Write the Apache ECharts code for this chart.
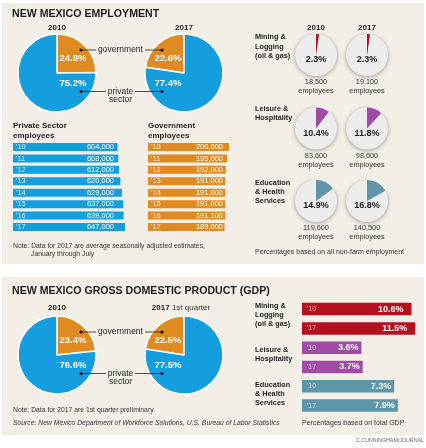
<!DOCTYPE html>
<html><head><meta charset="utf-8">
<script src="https://cdn.jsdelivr.net/npm/echarts@6/dist/echarts.min.js"></script>
<style>html,body{margin:0;padding:0;background:#fff}#c{width:426px;height:448px}</style>
</head><body><div id="c"></div>
<script>
// ---------- DATA ----------
const years = ["'10","'11","'12","'13","'14","'15","'16","'17"];
const privateEmp = [604000, 608000, 612000, 620000, 629000, 637000, 639000, 647000];
const govEmp = [200000, 195000, 192000, 191000, 191000, 191000, 191100, 189000];
const pieYears = ['2010', '2017'];
const empGovShare = [24.8, 22.6];
const empPrivShare = [75.2, 77.4];
const gdpGovShare = [23.4, 22.5];
const gdpPrivShare = [76.6, 77.5];
const sectorNames = ['Mining &\nLogging\n(oil & gas)', 'Leisure &\nHospitality', 'Education\n& Health\nServices'];
const sectorShare2010 = [2.3, 10.4, 14.9];
const sectorShare2017 = [2.3, 11.8, 16.8];
const sectorEmp2010 = [18500, 83600, 119600];
const sectorEmp2017 = [19100, 98600, 140500];
const gdpYearTags = ["'10", "'17"];
const gdpShare2010 = [10.6, 3.6, 7.3];
const gdpShare2017 = [11.5, 3.7, 7.9];

// ---------- STYLE ----------
const FONT = '"Liberation Sans", Arial, Helvetica, sans-serif';
const C = { bg:'#f3efe6', blue:'#149ede', orange:'#e08a22', ink:'#1e1e1e', grey:'#ececec' };
const sectorColors = ['#b3111f', '#a04ca6', '#5c96a8'];
const gdpLabelPad = [8, 3, 3];

function fmtNum(n){ return String(n).replace(/\B(?=(\d{3})+(?!\d))/g, ','); }

function T(x, y, text, o) {
  o = o || {};
  const st = {
    text: text, fill: o.color || C.ink,
    fontSize: o.size || 8, fontFamily: FONT,
    fontWeight: o.bold ? 'bold' : 'normal', fontStyle: o.italic ? 'italic' : 'normal',
    align: o.align || 'left', textAlign: o.align || 'left',
    verticalAlign: 'middle', textVerticalAlign: 'middle'
  };
  if (o.lh) st.lineHeight = o.lh;
  if (o.rich) st.rich = o.rich;
  return { type:'text', x:x, y:y, z:100, silent:true, style: st };
}
function L(x1, y1, x2, y2){ return { type:'line', z:100, silent:true, shape:{x1,y1,x2,y2}, style:{stroke:'#222', lineWidth:0.8} }; }
function D(cx, cy){ return { type:'circle', z:100, silent:true, shape:{cx,cy,r:1.6}, style:{fill:'#111'} }; }

function bigPie(cx, cy, gov, priv, mirrored) {
  const dir = mirrored ? -1 : 1;
  return {
    type:'pie', center:[cx, cy], radius:[0, 39], startAngle:90, clockwise: !mirrored,
    silent:true, animation:false, avoidLabelOverlap:false,
    itemStyle:{ borderColor:'#fff', borderWidth:1.5 },
    label:{ show:true, position:'inside', formatter:'{c}%', color:'#fff', fontWeight:'bold', fontSize:9.5, fontFamily:FONT },
    labelLine:{ show:false },
    labelLayout: function(p){ return { x: cx + dir*16, y: p.dataIndex === 0 ? cy - 15 : cy + 10, align:'center', verticalAlign:'middle' }; },
    data:[
      { name:'government', value:gov, itemStyle:{ color:C.orange } },
      { name:'private', value:priv, itemStyle:{ color:C.blue } }
    ]
  };
}
function smallPie(cx, cy, share, color) {
  return {
    type:'pie', center:[cx, cy], radius:[0, 21], startAngle:90, clockwise:false,
    silent:true, animation:false, avoidLabelOverlap:false,
    label:{ show:false }, labelLine:{ show:false },
    labelLayout: { x: cx, y: cy + 5, align:'center', verticalAlign:'middle' },
    data:[
      { value: +(100 - share).toFixed(1), itemStyle:{ color:C.grey, shadowBlur:4, shadowColor:'rgba(0,0,0,0.35)', shadowOffsetY:1 } },
      { value: share, itemStyle:{ color:color },
        label:{ show:true, position:'center', formatter:'{c}%', color:'#222', fontWeight:'bold', fontSize:9, fontFamily:FONT } }
    ]
  };
}

// ---------- LAYOUT ----------
const bigPieX = [57, 184];
const empPieY = 73, gdpPieY = 355;
const smallPieX = [316, 367];
const smallPieY = [55, 128.5, 201];

const series = [];
series.push(bigPie(bigPieX[0], empPieY, empGovShare[0], empPrivShare[0], false));
series.push(bigPie(bigPieX[1], empPieY, empGovShare[1], empPrivShare[1], true));
series.push(bigPie(bigPieX[0], gdpPieY, gdpGovShare[0], gdpPrivShare[0], false));
series.push(bigPie(bigPieX[1], gdpPieY, gdpGovShare[1], gdpPrivShare[1], true));
for (let i = 0; i < 3; i++) {
  series.push(smallPie(smallPieX[0], smallPieY[i], sectorShare2010[i], sectorColors[i]));
  series.push(smallPie(smallPieX[1], smallPieY[i], sectorShare2017[i], sectorColors[i]));
}

const barLabel = { color:'#fff', fontSize:7.5, fontFamily:FONT, align:'right', verticalAlign:'middle' };
series.push({ type:'bar', xAxisIndex:0, yAxisIndex:0, data:privateEmp, barWidth:8, silent:true, animation:false,
  itemStyle:{ color:C.blue },
  label:Object.assign({ show:true, position:[101, 4], formatter:p => fmtNum(p.value) }, barLabel) });
series.push({ type:'bar', xAxisIndex:1, yAxisIndex:1, data:govEmp, barWidth:8, silent:true, animation:false,
  itemStyle:{ color:C.orange },
  label:Object.assign({ show:true, position:[75, 4], formatter:p => fmtNum(p.value) }, barLabel) });

const gdpCats = [], gdpData = [];
for (let i = 0; i < 3; i++) {
  [gdpShare2010[i], gdpShare2017[i]].forEach((v, j) => {
    gdpCats.push('s' + i + 'y' + j);
    gdpData.push({ value:v, itemStyle:{ color:sectorColors[i] }, label:{ distance:gdpLabelPad[i] } });
  });
}
series.push({ type:'bar', xAxisIndex:2, yAxisIndex:2, data:gdpData, barWidth:12.5, silent:true, animation:false,
  label:{ show:true, position:'insideRight', formatter:'{c}%', color:'#fff', fontWeight:'bold', fontSize:9, fontFamily:FONT } });

const catAxisBase = {
  type:'category', inverse:true, z:5,
  axisLine:{ show:false }, axisTick:{ show:false }, splitLine:{ show:false }
};
const yAxis = [
  Object.assign({ gridIndex:0, data:years, axisLabel:{ inside:true, margin:3, color:'rgba(255,255,255,0.8)', fontSize:7.5, fontFamily:FONT } }, catAxisBase),
  Object.assign({ gridIndex:1, data:years, axisLabel:{ inside:true, margin:3, color:'rgba(255,255,255,0.8)', fontSize:7.5, fontFamily:FONT } }, catAxisBase),
  Object.assign({ gridIndex:2, data:gdpCats, axisLabel:{ inside:true, margin:5, color:'rgba(255,255,255,0.7)', fontSize:7, fontFamily:FONT,
    formatter:(v, i) => gdpYearTags[i % 2] } }, catAxisBase)
];
const xAxis = [
  { gridIndex:0, type:'value', min:0, max:700000, show:false },
  { gridIndex:1, type:'value', min:0, max:200000, show:false },
  { gridIndex:2, type:'log', logBase:10, min:1, max:12, show:false }
];
const grid = [
  { left:13, top:141.3, width:121.2, height:91.4, outerBoundsMode:'none' },
  { left:148, top:141.3, width:81, height:91.4, outerBoundsMode:'none' },
  { left:302, top:299.45, width:115.26, height:115.8, outerBoundsMode:'none' }
];

// ---------- TEXT / DECORATION ----------
const g = [];
g.push({ type:'rect', z:-10, silent:true, shape:{ x:2, y:3, width:422, height:261 }, style:{ fill:C.bg } });
g.push({ type:'rect', z:-10, silent:true, shape:{ x:2, y:277, width:422, height:158 }, style:{ fill:C.bg } });

function pieCallouts(cy) {
  const gy = cy - 23, py = cy + 18.5;
  g.push(T(120.5, gy, 'government', { size:8.5, align:'center' }));
  g.push(L(81, gy, 96, gy), L(145, gy, 162, gy), D(81, gy), D(162, gy));
  g.push(T(120.5, py, 'private', { size:8.5, align:'center' }));
  g.push(T(120.5, py + 8.5, 'sector', { size:8.5, align:'center' }));
  g.push(L(81, py, 106, py), L(135, py, 162, py), D(81, py), D(162, py));
}

g.push(T(12, 14, 'NEW MEXICO EMPLOYMENT', { bold:true, size:10.6 }));
g.push(T(bigPieX[0], 28, pieYears[0], { bold:true, align:'center' }));
g.push(T(bigPieX[1], 28, pieYears[1], { bold:true, align:'center' }));
pieCallouts(empPieY);
g.push(T(13, 126, 'Private Sector', { bold:true }), T(13, 136, 'employees', { bold:true }));
g.push(T(148, 126, 'Government', { bold:true }), T(148, 136, 'employees', { bold:true }));
g.push(T(13, 246, 'Note: Data for 2017 are average seasonally adjusted estimates,', { size:6.8, color:'#333' }));
g.push(T(31, 254.5, 'January through July', { size:6.8, color:'#333' }));

g.push(T(smallPieX[0], 28, pieYears[0], { bold:true, align:'center' }));
g.push(T(smallPieX[1], 28, pieYears[1], { bold:true, align:'center' }));
const empLabelY = [46.5, 113.5, 192];
for (let i = 0; i < 3; i++) {
  g.push(T(255, empLabelY[i], sectorNames[i], { bold:true, size:7.3, lh:9.3 }));
  g.push(T(smallPieX[0], smallPieY[i] + 27, fmtNum(sectorEmp2010[i]), { size:7.3, align:'center', color:'#333' }));
  g.push(T(smallPieX[0], smallPieY[i] + 36, 'employees', { size:7.3, align:'center', color:'#333' }));
  g.push(T(smallPieX[1], smallPieY[i] + 27, fmtNum(sectorEmp2017[i]), { size:7.3, align:'center', color:'#333' }));
  g.push(T(smallPieX[1], smallPieY[i] + 36, 'employees', { size:7.3, align:'center', color:'#333' }));
}
g.push(T(255, 252, 'Percentages based on all non-farm employment', { size:7, color:'#333' }));

g.push(T(12, 291, 'NEW MEXICO GROSS DOMESTIC PRODUCT (GDP)', { bold:true, size:10.6 }));
g.push(T(bigPieX[0], 308, pieYears[0], { bold:true, align:'center' }));
g.push(T(181, 308, '{b|' + pieYears[1] + '}{n| 1st quarter}', { align:'center',
  rich:{ b:{ fontWeight:'bold', fontSize:8, fontFamily:FONT, fill:C.ink }, n:{ fontWeight:'normal', fontSize:8, fontFamily:FONT, fill:'#333' } } }));
pieCallouts(gdpPieY);
g.push(T(13, 410, 'Note: Data for 2017 are 1st quarter preliminary', { size:6.8, color:'#333' }));
g.push(T(13, 423, 'Source: New Mexico Department of Workforce Solutions, U.S. Bureau of Labor Statistics', { size:6.8, italic:true, color:'#333' }));
const gdpLabelY = [315, 354.5, 394];
for (let i = 0; i < 3; i++) g.push(T(255, gdpLabelY[i], sectorNames[i], { bold:true, size:7.3, lh:9.3 }));
g.push(T(302, 423, 'Percentages based on total GDP', { size:7, color:'#333' }));
g.push(T(424, 441, 'C.CUNNINGHAM/JOURNAL', { size:5.3, align:'right', color:'#666' }));

const chart = echarts.init(document.getElementById('c'), null, { renderer:'canvas' });
chart.setOption({
  backgroundColor:'#fff', animation:false,
  grid, xAxis, yAxis, series,
  graphic:{ elements:g }
});
</script></body></html>
